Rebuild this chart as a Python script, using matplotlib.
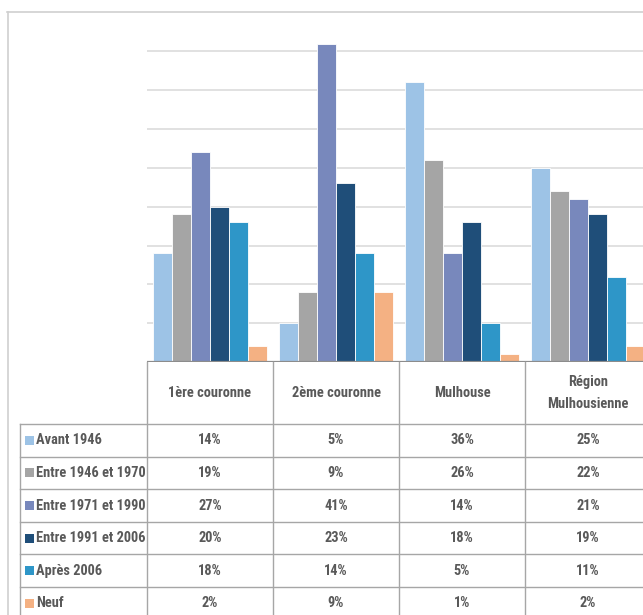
import matplotlib
matplotlib.use("Agg")
import matplotlib.pyplot as plt
import matplotlib.transforms as mtransforms
from matplotlib import font_manager
from matplotlib.patches import Rectangle
import numpy as np

categories = ["1ère couronne", "2ème couronne", "Mulhouse", "Région\nMulhousienne"]
series = ["Avant 1946", "Entre 1946 et 1970", "Entre 1971 et 1990",
          "Entre 1991 et 2006", "Après 2006", "Neuf"]
avant_1946 = [14, 5, 36, 25]
entre_1946_1970 = [19, 9, 26, 22]
entre_1971_1990 = [27, 41, 14, 21]
entre_1991_2006 = [20, 23, 18, 19]
apres_2006 = [18, 14, 5, 11]
neuf = [2, 9, 1, 2]
values = [avant_1946, entre_1946_1970, entre_1971_1990,
          entre_1991_2006, apres_2006, neuf]
colors = ["#9DC3E6", "#A5A5A5", "#7888BC", "#1F4E79", "#2E96C8", "#F4B183"]

# pick the narrowest available family
installed = {f.name for f in font_manager.fontManager.ttflist}
family = "DejaVu Sans"
for cand in ["Liberation Sans Narrow", "Roboto Condensed", "Open Sans Condensed",
             "Noto Sans Condensed", "Lato", "Roboto", "Liberation Sans"]:
    if cand in installed:
        family = cand
        break
plt.rcParams['font.family'] = [family, 'DejaVu Sans']

W, H = 643, 615
fig = plt.figure(figsize=(W / 100, H / 100), dpi=100)
renderer = fig.canvas.get_renderer()

# size the table text so the longest series name fits its column
probe = fig.text(0, 0, "Entre 1946 et 1970", fontsize=10, fontweight="bold")
probe_w = probe.get_window_extent(renderer).width
probe.remove()
fs = min(13, 10 * 110 / probe_w)


def fx(px):
    return px / W


def fy(py):
    return 1 - py / H


# plot area (right edge runs past the canvas)
ax_left, ax_right, ax_top, ax_bottom = 147, 651, 12.5, 362
ax = fig.add_axes([fx(ax_left), fy(ax_bottom), fx(ax_right - ax_left),
                   (ax_bottom - ax_top) / H])
ax.set_xlim(-0.5, len(categories) - 0.5)
ax.set_ylim(0, 45)
for s in ax.spines.values():
    s.set_visible(False)
ax.set_xticks([])
ax.set_yticks([])
for g in range(5, 45, 5):
    ax.axhline(g, color="#D9D9D9", lw=1.1, zorder=0)
ax.axhline(0, color="#8C8C8C", lw=1.6, zorder=3)

bw = 0.15
x = np.arange(len(categories))
for j, (vals, c) in enumerate(zip(values, colors)):
    ax.bar(x + (j - 2.5) * bw, vals, width=bw, color=c,
           edgecolor="white", linewidth=0.6, zorder=2)

# outer chart border
fig.add_artist(plt.Line2D([fx(7), 1.0], [fy(12.3), fy(12.3)], color="#D0D0D0", lw=1.2))
fig.add_artist(plt.Line2D([fx(7.5), fx(7.5)], [fy(12.3), 0], color="#D0D0D0", lw=1.2))

# data table below the plot
line_c = "#A6A6A6"
txt_c = "#595959"
blend = mtransforms.blended_transform_factory(ax.transData, fig.transFigure)
header_bottom = 424
row_h = 32.6
row_tops = [header_bottom + i * row_h for i in range(len(series))]

for b in np.arange(-0.5, len(categories) + 0.5, 1.0):
    fig.add_artist(plt.Line2D([b, b], [fy(ax_bottom), 0], transform=blend,
                              color=line_c, lw=1.0))
fig.add_artist(plt.Line2D([fx(20), fx(20)], [fy(header_bottom), 0],
                          color=line_c, lw=1.0))
for yt in row_tops:
    fig.add_artist(plt.Line2D([fx(20), 1.0], [fy(yt), fy(yt)],
                              color=line_c, lw=1.0))

for i, cat in enumerate(categories):
    fig.text(i, fy((ax_bottom + header_bottom) / 2), cat, transform=blend,
             ha="center", va="center", fontsize=fs, color=txt_c,
             fontweight="bold", linespacing=1.75)

for j, name in enumerate(series):
    yc = row_tops[j] + row_h / 2
    fig.patches.append(Rectangle((fx(25), fy(yc + 4.5)), fx(8.5), 9 / H,
                                 transform=fig.transFigure, facecolor=colors[j],
                                 edgecolor="none", figure=fig,
                                 hatch="++" if j == 3 else None))
    fig.text(fx(36), fy(yc), name, ha="left", va="center", fontsize=fs,
             color=txt_c, fontweight="bold")
    for i in range(len(categories)):
        fig.text(i, fy(yc), f"{values[j][i]}%", transform=blend,
                 ha="center", va="center", fontsize=fs, color=txt_c,
                 fontweight="bold")

fig.savefig("out.png", dpi=100)
